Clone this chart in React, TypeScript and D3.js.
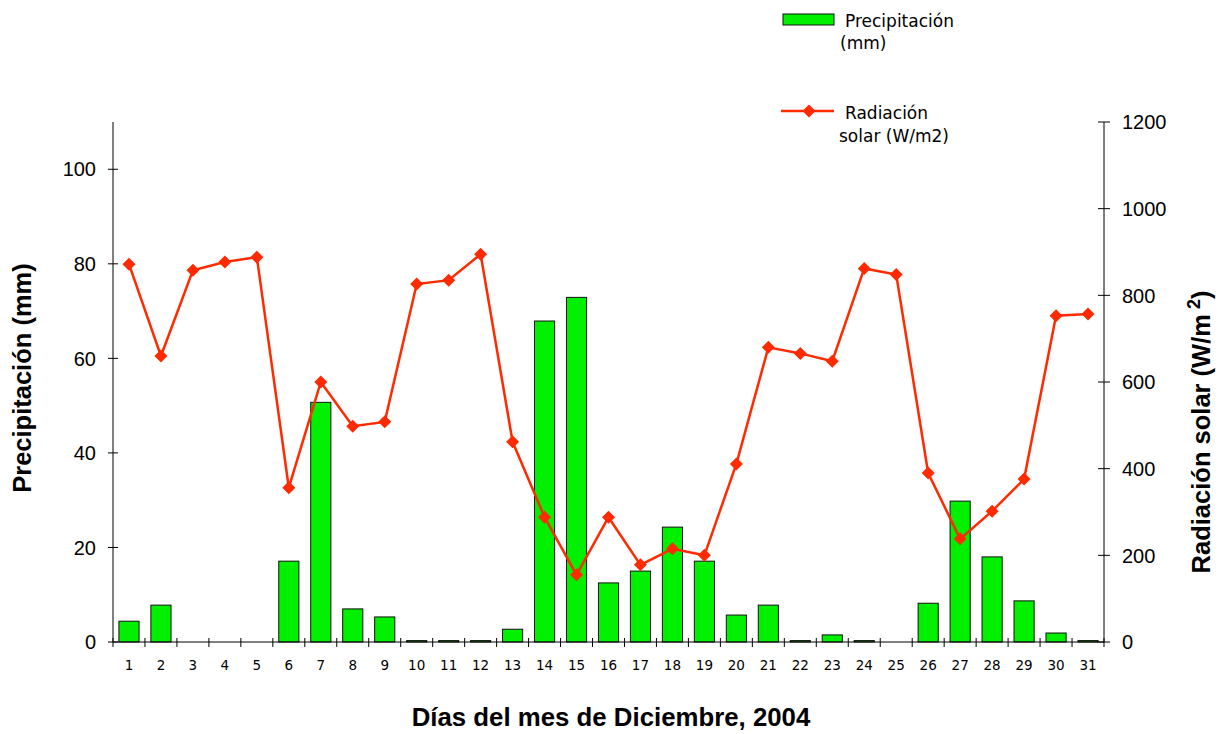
import React from "react";
import * as d3 from "d3";

const days: string[] = Array.from({ length: 31 }, (_, i) => String(i + 1));
const precipitation: number[] = [
  4.4, 7.8, 0, 0, 0, 17.1, 50.7, 7.0, 5.3, 0.3, 0.3, 0.3, 2.7, 67.9, 72.9, 12.5,
  15.0, 24.3, 17.1, 5.7, 7.8, 0.3, 1.5, 0.3, 0, 8.2, 29.8, 18.0, 8.7, 1.9, 0.3,
];
const radiation: number[] = [
  872, 660, 858, 877, 888, 356, 600, 498, 508, 826, 835, 895, 462, 288, 155, 288,
  178, 215, 200, 411, 680, 666, 648, 862, 848, 390, 238, 302, 376, 753, 757,
];
const leftTicks: number[] = [0, 20, 40, 60, 80, 100];
const rightTicks: number[] = [0, 200, 400, 600, 800, 1000, 1200];

const W = 1232;
const H = 734;
const M = { left: 113, right: 1104, top: 122, bottom: 642 };
const GREEN = "#00f000";
const RED = "#ff2a00";
const TICK_FONT = "'Liberation Sans', Arial, sans-serif";
const SMALL_FONT = "'DejaVu Sans', Verdana, sans-serif";

export default function App() {
  const x = d3
    .scaleBand<string>()
    .domain(days)
    .range([M.left, M.right])
    .paddingInner(0.37)
    .paddingOuter(0.185);
  const yL = d3.scaleLinear().domain([0, 110]).range([M.bottom, M.top]);
  const yR = d3.scaleLinear().domain([0, 1200]).range([M.bottom, M.top]);
  const step = x.step();
  const cx = (d: string) => (x(d) as number) + x.bandwidth() / 2;

  const line = d3
    .line<number>()
    .x((_, i) => cx(days[i]))
    .y((v) => yR(v));

  const diamond = "M0,-6.5L6.5,0L0,6.5L-6.5,0Z";
  const boundaries = d3.range(days.length + 1).map((i) => M.left + i * step);

  return (
    <div style={{ position: "absolute", left: 0, top: 0 }}>
      <svg width={W} height={H} style={{ display: "block", background: "#fff" }}>
        {/* bars */}
        {precipitation.map((v, i) =>
          v > 0 ? (
            <rect
              key={"b" + i}
              x={x(days[i])}
              y={yL(v)}
              width={x.bandwidth()}
              height={yL(0) - yL(v)}
              fill={GREEN}
              stroke="#111"
              strokeWidth={1}
            />
          ) : null
        )}

        {/* left axis */}
        <line x1={M.left} x2={M.left} y1={M.top} y2={M.bottom} stroke="#000" />
        {leftTicks.map((t) => (
          <g key={"lt" + t}>
            <line x1={M.left - 5} x2={M.left + 5} y1={yL(t)} y2={yL(t)} stroke="#000" />
            <text
              x={M.left - 17}
              y={yL(t)}
              dy="0.36em"
              textAnchor="end"
              fontFamily={TICK_FONT}
              fontSize={20}
            >
              {t}
            </text>
          </g>
        ))}

        {/* right axis */}
        <line x1={M.right} x2={M.right} y1={M.top} y2={M.bottom} stroke="#000" />
        {rightTicks.map((t) => (
          <g key={"rt" + t}>
            <line x1={M.right - 6} x2={M.right + 6} y1={yR(t)} y2={yR(t)} stroke="#000" />
            <text
              x={M.right + 18}
              y={yR(t)}
              dy="0.36em"
              textAnchor="start"
              fontFamily={TICK_FONT}
              fontSize={20}
            >
              {t}
            </text>
          </g>
        ))}

        {/* x axis */}
        <line x1={M.left} x2={M.right} y1={M.bottom} y2={M.bottom} stroke="#000" />
        {boundaries.map((bx, i) => (
          <line key={"xt" + i} x1={bx} x2={bx} y1={M.bottom - 4} y2={M.bottom + 5} stroke="#000" />
        ))}
        {days.map((d) => (
          <text
            key={"xl" + d}
            x={cx(d)}
            y={670}
            textAnchor="middle"
            fontFamily={SMALL_FONT}
            fontSize={13.5}
          >
            {d}
          </text>
        ))}

        {/* radiation line */}
        <path d={line(radiation) || ""} fill="none" stroke={RED} strokeWidth={2.5} />
        {radiation.map((v, i) => (
          <path
            key={"m" + i}
            d={diamond}
            transform={`translate(${cx(days[i])},${yR(v)})`}
            fill={RED}
          />
        ))}

        {/* axis titles */}
        <text
          transform={`translate(31,378) rotate(-90)`}
          textAnchor="middle"
          fontFamily={TICK_FONT}
          fontWeight="bold"
          fontSize={25.5}
        >
          Precipitación (mm)
        </text>
        <text
          transform={`translate(1210,432) rotate(-90)`}
          textAnchor="middle"
          fontFamily={TICK_FONT}
          fontWeight="bold"
          fontSize={25.5}
        >
          Radiación solar (W/m
          <tspan dy={-10} fontSize={18}> 2</tspan>
          <tspan dy={10}>)</tspan>
        </text>
        <text
          x={611}
          y={726}
          textAnchor="middle"
          fontFamily={TICK_FONT}
          fontWeight="bold"
          fontSize={25.8}
        >
          Días del mes de Diciembre, 2004
        </text>

        {/* legend */}
        <rect x={783} y={14} width={51} height={11} fill={GREEN} stroke="#111" />
        <text x={845} y={27} fontFamily={SMALL_FONT} fontSize={17}>
          Precipitación
        </text>
        <text x={840} y={49} fontFamily={SMALL_FONT} fontSize={17}>
          (mm)
        </text>
        <line x1={781} x2={834} y1={111} y2={111} stroke={RED} strokeWidth={2.5} />
        <path d={diamond} transform="translate(809,111)" fill={RED} />
        <text x={845} y={119} fontFamily={SMALL_FONT} fontSize={17}>
          Radiación
        </text>
        <text x={839} y={142} fontFamily={SMALL_FONT} fontSize={17}>
          solar (W/m2)
        </text>
      </svg>
    </div>
  );
}
